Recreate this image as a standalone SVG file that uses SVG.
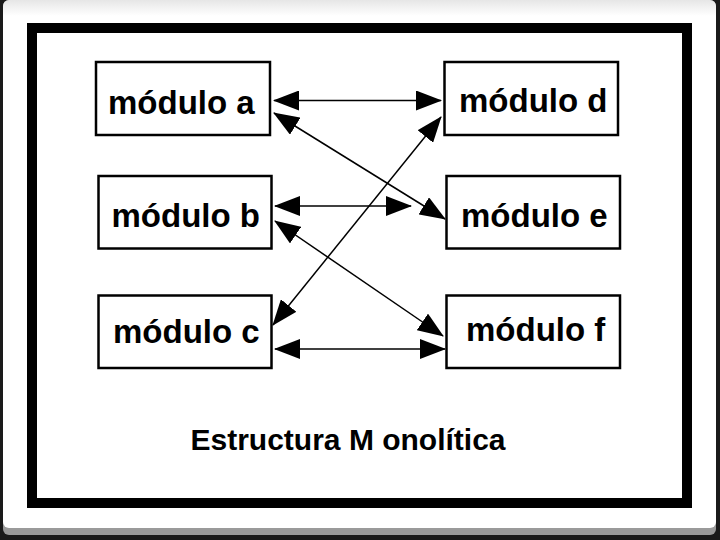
<svg xmlns="http://www.w3.org/2000/svg" width="720" height="540" viewBox="0 0 720 540">
  <defs>
    <linearGradient id="topfade" x1="0" y1="0" x2="0" y2="1">
      <stop offset="0" stop-color="#e6e6e6"/>
      <stop offset="0.03" stop-color="#ffffff"/>
      <stop offset="1" stop-color="#ffffff"/>
    </linearGradient>
    <marker id="ah" markerUnits="userSpaceOnUse" markerWidth="26" markerHeight="20" viewBox="0 0 26 20" refX="25" refY="10" orient="auto-start-reverse">
      <path d="M0,0 L26,10 L0,20 Z" fill="#000"/>
    </marker>
    <style>
      .box { fill: #fff; stroke: #000; stroke-width: 2.5; }
      .lbl { font-family: "Liberation Sans", Arial, sans-serif; font-weight: bold; font-size: 33px; fill: #000; }
      .title { font-family: "Liberation Sans", Arial, sans-serif; font-weight: bold; font-size: 30px; fill: #000; }
      .conn { stroke: #000; stroke-width: 1.5; fill: none; marker-start: url(#ah); marker-end: url(#ah); }
    </style>
  </defs>

  <!-- slide background -->
  <rect x="0" y="0" width="720" height="540" fill="#1a1a1a"/>
  <rect x="3" y="0" width="713" height="535" rx="6" fill="#9a9a9a"/>
  <rect x="3" y="0" width="713" height="528" rx="6" fill="url(#topfade)"/>

  <!-- thick frame -->
  <rect x="32" y="28" width="655" height="475" fill="#fff" stroke="#000" stroke-width="10"/>

  <!-- nodes -->
  <g id="modulo-a">
    <rect class="box" x="96" y="62" width="174" height="73"/>
    <text class="lbl" x="108" y="113.5">módulo a</text>
  </g>
  <g id="modulo-b">
    <rect class="box" x="98.5" y="176" width="173" height="72.5"/>
    <text class="lbl" x="111.5" y="227">módulo b</text>
  </g>
  <g id="modulo-c">
    <rect class="box" x="98.5" y="295.5" width="173" height="72.5"/>
    <text class="lbl" x="113" y="343">módulo c</text>
  </g>
  <g id="modulo-d">
    <rect class="box" x="444.5" y="62" width="173.5" height="73"/>
    <text class="lbl" x="459" y="112">módulo d</text>
  </g>
  <g id="modulo-e">
    <rect class="box" x="446.5" y="176" width="173.5" height="72.5"/>
    <text class="lbl" x="461" y="227">módulo e</text>
  </g>
  <g id="modulo-f">
    <rect class="box" x="446.5" y="295.5" width="173.5" height="72.5"/>
    <text class="lbl" x="466" y="340.5">módulo f</text>
  </g>

  <!-- connectors -->
  <g id="connectors">
    <line class="conn" x1="274" y1="100.5" x2="441" y2="100.5"/>
    <line class="conn" x1="274" y1="113" x2="445" y2="219"/>
    <line class="conn" x1="275" y1="206" x2="411" y2="206"/>
    <line class="conn" x1="275" y1="221" x2="443" y2="336"/>
    <line class="conn" x1="273" y1="325" x2="441" y2="117"/>
    <line class="conn" x1="275" y1="349" x2="445" y2="349"/>
  </g>

  <text class="title" x="190.5" y="450">Estructura M onolítica</text>
</svg>
